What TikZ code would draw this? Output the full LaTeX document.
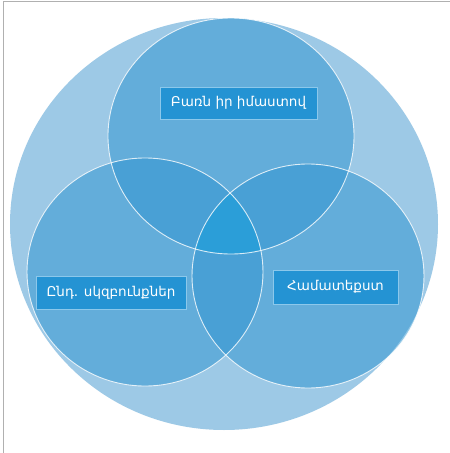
\documentclass[tikz,border=0pt]{standalone}
\usepackage{fontspec}
\setmainfont{DejaVu Sans}
\definecolor{bigc}{RGB}{157,201,230}
\definecolor{smallc}{RGB}{52,151,209}
\definecolor{triplec}{RGB}{43,158,216}
\definecolor{boxc}{RGB}{36,147,211}
\definecolor{boxedge}{RGB}{140,200,235}
\definecolor{framec}{RGB}{176,176,176}
\tikzset{
  smallcircle/.style={fill=smallc,fill opacity=0.55},
  circleedge/.style={draw=white,draw opacity=0.8,line width=0.9pt},
  labelbox/.style={fill=boxc,draw=boxedge,line width=0.8pt,text=white,inner sep=0pt,font=\fontsize{13.5}{15}\selectfont},
}
\begin{document}
\begin{tikzpicture}[x=1pt,y=-1pt]
\useasboundingbox (0,0) rectangle (450,453);
\fill[white] (0,0) rectangle (450,453);
\draw[framec,line width=1pt] (3,453) -- (3,1) -- (450,1);
% big circle
\fill[bigc] (224,224) ellipse [x radius=214,y radius=206];
% three circles
\fill[smallcircle] (231,136) ellipse [x radius=123,y radius=118];
\fill[smallcircle] (145,272) ellipse [x radius=118,y radius=114];
\fill[smallcircle] (308,276) ellipse [x radius=116,y radius=112];
% triple overlap
\begin{scope}
  \clip (231,136) ellipse [x radius=123,y radius=118];
  \clip (145,272) ellipse [x radius=118,y radius=114];
  \fill[triplec] (308,276) ellipse [x radius=116,y radius=112];
\end{scope}
\draw[circleedge] (231,136) ellipse [x radius=123,y radius=118];
\draw[circleedge] (145,272) ellipse [x radius=118,y radius=114];
\draw[circleedge] (308,276) ellipse [x radius=116,y radius=112];
% labels
\node[labelbox,minimum width=157pt,minimum height=32pt] (meaning) at (238.5,103) {Բառն իր իմաստով};
\node[labelbox,minimum width=150pt,minimum height=33pt] (principles) at (111,292.5) {Ընդ. սկզբունքներ};
\node[labelbox,minimum width=125pt,minimum height=34pt] (context) at (335.5,287) {Համատեքստ};
\end{tikzpicture}
\end{document}
